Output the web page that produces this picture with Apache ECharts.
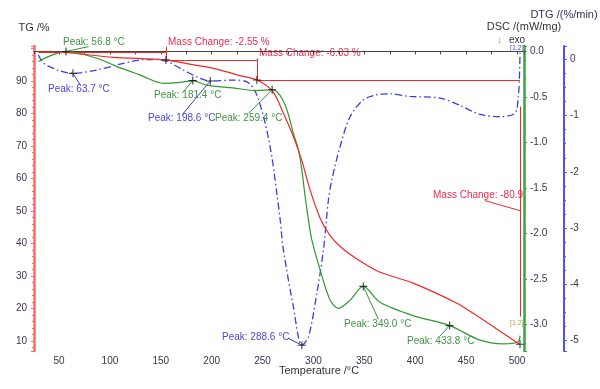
<!DOCTYPE html>
<html>
<head>
<meta charset="utf-8">
<script src="https://cdn.jsdelivr.net/npm/echarts@6/dist/echarts.min.js"></script>
<style>html,body{margin:0;padding:0;background:#fff}#c{width:600px;height:389px}</style>
</head>
<body>
<div id="c"></div>
<script>
// ---- data ----
const tgTemp  = [29.7, 57.8, 103, 155, 180, 202, 225, 244.4, 260, 270.5, 280.3, 288.6, 296.7, 306.6, 316, 328, 345.8, 363.8, 398, 441, 457, 501, 503];
const tgValue = [99.0, 98.7, 97.3, 96.45, 95.1, 93.9, 91.9, 90.3, 86.8, 80.1, 72.9, 65.5, 56.5, 47.8, 42.6, 38.6, 34.6, 31.4, 27.8, 21.6, 18.5, 9.3, 9.0];

const dscTemp  = [29.7, 43, 56.8, 87.3, 107, 130, 152.7, 169, 181.4, 195, 221, 244, 259.4, 267, 273.9, 280.3, 285.3, 288.6, 291.8, 295.1, 298.4, 306.6, 316.4, 324.5, 336, 349.0, 365, 398, 433.8, 463.7, 486.5, 501, 503];
const dscValue = [-0.11, -0.04, 0.0, -0.075, -0.167, -0.26, -0.35, -0.34, -0.32, -0.37, -0.40, -0.43, -0.42, -0.48, -0.64, -0.90, -1.08, -1.30, -1.59, -1.85, -2.07, -2.40, -2.73, -2.82, -2.73, -2.58, -2.75, -2.90, -3.01, -3.17, -3.21, -3.19, -3.12];

const dtgTemp  = [29.7, 34.9, 50, 63.7, 87.3, 107, 130, 140, 155, 172, 188.7, 198.6, 221, 234.5, 243, 252.6, 259.1, 264, 267.3, 270.5, 280.3, 288.6, 295.1, 303.3, 309.8, 314.7, 318.0, 326.2, 336, 349.1, 362.2, 375.3, 395, 424.4, 444, 463.7, 483.4, 498, 501.3, 502.3, 503];
const dtgValue = [0.076, -0.07, -0.20, -0.25, -0.19, -0.10, -0.012, -0.005, -0.03, -0.19, -0.34, -0.385, -0.37, -0.40, -0.575, -1.14, -1.73, -2.38, -2.85, -3.39, -4.40, -5.08, -4.93, -4.16, -3.39, -2.50, -2.145, -1.55, -1.02, -0.72, -0.63, -0.615, -0.66, -0.69, -0.82, -0.98, -1.02, -0.96, -0.665, -0.37, 0.11];

// mass-change construction lines (TG axis): [T1, TG1, T2, TG2]
const massLines = [
  [29.7, 99.0, 155, 99.0],
  [155, 100.55, 155, 96.45],
  [155, 96.45, 244.4, 96.45],
  [244.4, 97.0, 244.4, 90.3],
  [244.4, 90.3, 503, 90.3],
  [503, 82.1, 503, 17.5],
  [468.6, 53.2, 503, 50.1]
];
// peak leader lines: [T_peak, v_peak, T_label, v_label]
const dscLeaders = [
  [56.8, 0.0, 79, 0.053],
  [181.4, -0.32, 170.8, -0.459],
  [259.4, -0.42, 236.2, -0.68],
  [349.0, -2.58, 363.8, -2.94],
  [433.8, -3.01, 424.4, -3.124]
];
const dtgLeaders = [
  [63.7, -0.25, 70.9, -0.457],
  [198.6, -0.385, 170.8, -0.99],
  [288.6, -5.08, 275.4, -4.96]
];
// peak markers
const tgMarks  = [[155, 96.45], [244.4, 90.3], [503, 9.0]];
const dscMarks = [[56.8, 0.0], [181.4, -0.32], [259.4, -0.42], [349.0, -2.58], [433.8, -3.01]];
const dtgMarks = [[63.7, -0.25], [198.6, -0.385], [288.6, -5.08]];

// ---- styling ----
const FONT = 'Liberation Sans, Arial, sans-serif';
const RED = '#f02828', GREEN = '#2f9a2f', BLUE = '#3b3bea';
const RED_T = '#ee2a50', GREEN_T = '#3f9444', BLUE_T = '#4a46e0';
const LBL = '#3b3350';
const plus = 'path://M4.3,0H5.7V4.3H10V5.7H5.7V10H4.3V5.7H0V4.3H4.3Z';

function zipXY(xs, ys) { return xs.map((x, i) => [x, ys[i]]); }
function segs(arr) { return arr.map(s => ({ coords: [[s[0], s[1]], [s[2], s[3]]] })); }

const chart = echarts.init(document.getElementById('c'), null, { renderer: 'canvas' });

function txt(t, x, y, color, size) {
  return { type: 'text', x: x, y: y, silent: true,
    style: { text: t, fill: color, font: (size || 10) + 'px ' + FONT, align: 'left', verticalAlign: 'middle' } };
}

const option = {
  animation: false,
  backgroundColor: '#fff',
  grid: { left: 34, right: 76, top: 46, bottom: 38, containLabel: false, outerBoundsMode: 'none' },
  xAxis: {
    type: 'value', min: 25.4, max: 506.9, splitNumber: 10,
    axisLine: { show: true, lineStyle: { color: '#444', width: 1 } },
    axisTick: { show: true, length: 3, lineStyle: { color: '#444' } },
    minorTick: { show: true, splitNumber: 2, length: 3, lineStyle: { color: '#444' } },
    splitLine: { show: false },
    axisLabel: { color: LBL, fontFamily: FONT, fontSize: 10, margin: 5, showMinLabel: false, showMaxLabel: false }
  },
  yAxis: [
    {
      type: 'value', position: 'left', min: 6.92, max: 100.77, splitNumber: 9,
      name: 'TG /%', nameGap: 13, nameTextStyle: { color: '#333', fontFamily: FONT, fontSize: 11 },
      axisLine: { show: true, lineStyle: { color: '#ff6a6a', width: 2.5 } },
      axisTick: { show: true, length: 3, lineStyle: { color: '#ff6a6a' } },
      minorTick: { show: true, splitNumber: 5, length: 2, lineStyle: { color: '#ff6a6a' } },
      splitLine: { show: false },
      axisLabel: { color: LBL, fontFamily: FONT, fontSize: 10, margin: 7, showMinLabel: false, showMaxLabel: false,
        formatter: v => (Math.abs(v - Math.round(v / 10) * 10) < 1e-6 && v < 99.5) ? String(Math.round(v)) : '' }
    },
    {
      type: 'value', position: 'right', offset: 0, min: -3.289, max: 0.06, splitNumber: 7,
      name: 'DSC /(mW/mg)', nameGap: 14, nameTextStyle: { color: '#333', fontFamily: FONT, fontSize: 11, align: 'center' },
      axisLine: { show: true, lineStyle: { color: '#3aa640', width: 2.5 } },
      axisTick: { show: true, length: 3, lineStyle: { color: '#3aa640' } },
      minorTick: { show: true, splitNumber: 5, length: 2, lineStyle: { color: '#3aa640' } },
      splitLine: { show: false },
      axisLabel: { color: LBL, fontFamily: FONT, fontSize: 10, margin: 6, showMinLabel: false, showMaxLabel: false,
        formatter: v => (Math.abs(v * 2 - Math.round(v * 2)) < 1e-6) ? (Math.abs(v) < 1e-9 ? '0.0' : v.toFixed(1)) : '' }
    },
    {
      type: 'value', position: 'right', offset: 40, min: -5.183, max: 0.236, splitNumber: 5,
      name: 'DTG /(%/min)', nameGap: 26, nameTextStyle: { color: '#3c2f5c', fontFamily: FONT, fontSize: 11, align: 'center' },
      axisLine: { show: true, lineStyle: { color: '#5050ff', width: 2 } },
      axisTick: { show: true, length: 3, lineStyle: { color: '#5050ff' } },
      minorTick: { show: true, splitNumber: 4, length: 2, lineStyle: { color: '#5050ff' } },
      splitLine: { show: false },
      axisLabel: { color: LBL, fontFamily: FONT, fontSize: 10, margin: 6, showMinLabel: false, showMaxLabel: false,
        formatter: v => (Math.abs(v - Math.round(v)) < 1e-6) ? String(Math.round(v)) : '' }
    }
  ],
  series: [
    { type: 'lines', coordinateSystem: 'cartesian2d', xAxisIndex: 0, yAxisIndex: 0, silent: true, z: 3,
      lineStyle: { color: RED, width: 1, opacity: 1 }, data: segs(massLines) },
    { type: 'lines', coordinateSystem: 'cartesian2d', xAxisIndex: 0, yAxisIndex: 1, silent: true, z: 3,
      lineStyle: { color: GREEN, width: 1, opacity: 1 }, data: segs(dscLeaders) },
    { type: 'lines', coordinateSystem: 'cartesian2d', xAxisIndex: 0, yAxisIndex: 2, silent: true, z: 3,
      lineStyle: { color: BLUE, width: 1, opacity: 1 }, data: segs(dtgLeaders) },
    { name: 'DTG', type: 'line', yAxisIndex: 2, data: zipXY(dtgTemp, dtgValue), showSymbol: false,
      smooth: 0.3, z: 4,
      lineStyle: { color: BLUE, width: 1.3, type: [7, 3, 1.5, 3] } },
    { name: 'DSC', type: 'line', yAxisIndex: 1, data: zipXY(dscTemp, dscValue), showSymbol: false,
      smooth: 0.3, z: 5, lineStyle: { color: GREEN, width: 1.2 } },
    { name: 'TG', type: 'line', yAxisIndex: 0, data: zipXY(tgTemp, tgValue), showSymbol: false,
      smooth: 0.3, z: 6, lineStyle: { color: RED, width: 1.2 } },
    { type: 'scatter', yAxisIndex: 0, data: tgMarks, symbol: plus, symbolSize: 8, itemStyle: { color: '#111' }, z: 8, silent: true },
    { type: 'scatter', yAxisIndex: 1, data: dscMarks, symbol: plus, symbolSize: 8, itemStyle: { color: '#111' }, z: 8, silent: true },
    { type: 'scatter', yAxisIndex: 2, data: dtgMarks, symbol: plus, symbolSize: 8, itemStyle: { color: '#111' }, z: 8, silent: true }
  ],
  graphic: [
    txt('Peak: 56.8 °C', 63, 42, GREEN_T),
    txt('Mass Change: -2.55 %', 168, 42, RED_T),
    txt('Mass Change: -6.03 %', 259, 53, RED_T),
    txt('Peak: 63.7 °C', 48, 89, BLUE_T),
    txt('Peak: 181.4 °C', 154, 95, GREEN_T),
    txt('Peak: 198.6 °C', 148, 118, BLUE_T),
    txt('Peak: 259.4 °C', 215, 118, GREEN_T),
    txt('Peak: 288.6 °C', 222, 337, BLUE_T),
    txt('Peak: 349.0 °C', 344, 324, GREEN_T),
    txt('Peak: 433.8 °C', 407, 341, GREEN_T),
    txt('Mass Change: -80.9', 433, 195, RED_T),
    txt('↓', 497, 40, '#c8a050', 11),
    txt('exo', 509, 40, '#333', 10),
    txt('[1.2]', 510, 48, BLUE_T, 7),
    txt('[1.2]', 510, 323, '#b0a040', 7),
    txt('Temperature /°C', 279, 371, '#333', 11)
  ]
};
chart.setOption(option);
</script>
</body>
</html>
